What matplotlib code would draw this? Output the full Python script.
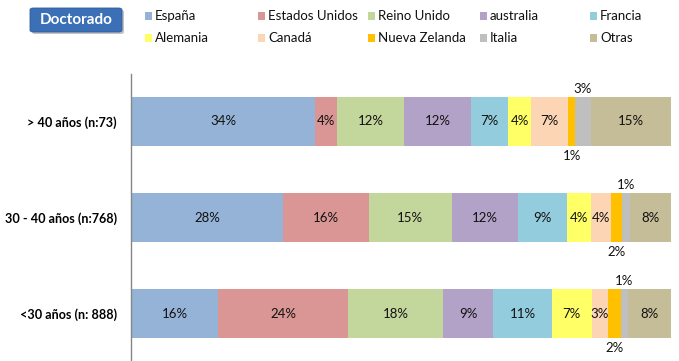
import matplotlib.pyplot as plt
import numpy as np
from matplotlib.patches import FancyBboxPatch, Rectangle

# categories, bottom to top
groups = ["<30 años (n: 888)", "30 - 40 años (n:768)", "> 40 años (n:73)"]

countries = ["España", "Estados Unidos", "Reino Unido", "australia", "Francia",
             "Alemania", "Canadá", "Nueva Zelanda", "Italia", "Otras"]

colors = ["#95B3D7", "#D99694", "#C3D69B", "#B3A2C7", "#93CDDD",
          "#FFFF66", "#FCD5B5", "#FFC000", "#BFBFBF", "#C4BD97"]

# share (%) per country, one value per group (<30, 30-40, >40)
espana = [16.1, 28.2, 34.1]
estados_unidos = [24.1, 15.8, 4.1]
reino_unido = [17.6, 15.4, 12.4]
australia = [9.3, 12.2, 12.4]
francia = [10.8, 9.1, 6.9]
alemania = [7.4, 4.4, 4.1]
canada = [3.0, 3.7, 6.9]
nueva_zelanda = [2.4, 2.2, 1.4]
italia = [1.3, 1.4, 2.8]
otras = [8.0, 7.6, 14.9]

series = [espana, estados_unidos, reino_unido, australia, francia,
          alemania, canada, nueva_zelanda, italia, otras]

plt.rcParams["font.family"] = ["Lato", "DejaVu Sans"]

fig = plt.figure(figsize=(6.79, 3.61), dpi=100)
ax = fig.add_axes([131 / 679, 0.0, 540 / 679, 1 - 74 / 361])

ypos = np.arange(len(groups))
left = np.zeros(len(groups))
bar_h = 0.51
for name, vals, col in zip(countries, series, colors):
    vals = np.array(vals)
    ax.barh(ypos, vals, left=left, height=bar_h, color=col, edgecolor="none")
    for y, l, v in zip(ypos, left, vals):
        txt = "%d%%" % round(v)
        cx = l + v / 2
        if name == "Nueva Zelanda":
            ax.text(cx, y - bar_h / 2 - 0.04, txt, ha="center", va="top",
                    fontsize=9.5, color="#111111")
        elif name == "Italia":
            ax.text(cx, y + bar_h / 2 + 0.02, txt, ha="center", va="bottom",
                    fontsize=9.5, color="#111111")
        else:
            ax.text(cx, y, txt, ha="center", va="center", fontsize=9.5,
                    color="#111111")
    left += vals

ax.set_xlim(0, 100)
ax.set_ylim(-0.49, 2.49)
ax.set_yticks(ypos)
ax.set_yticklabels(groups, fontsize=9.1, fontweight="bold")
ax.tick_params(axis="y", length=0, pad=10)
ax.set_xticks([])
for s in ["top", "right", "bottom"]:
    ax.spines[s].set_visible(False)
ax.spines["left"].set_color("#868686")
ax.spines["left"].set_linewidth(1)

# legend, 5 columns x 2 rows
col_x = [145, 258, 368, 480, 590]
row_y = [16, 38]
for i, (name, col) in enumerate(zip(countries, colors)):
    x = col_x[i % 5]
    y = row_y[i // 5]
    fig.patches.append(Rectangle((x / 679, 1 - (y + 3.5) / 361), 7 / 679, 7 / 361,
                                 transform=fig.transFigure, facecolor=col,
                                 edgecolor="none"))
    fig.text((x + 10) / 679, 1 - y / 361, name, ha="left", va="center",
             fontsize=9.5, color="#111111")

# title box
shadow = FancyBboxPatch((32 / 679, 1 - 34 / 361), 92 / 679, 24 / 361,
                        boxstyle="round,pad=0,rounding_size=0.005",
                        transform=fig.transFigure, facecolor="#9a9a9a",
                        edgecolor="none", alpha=0.6)
box = FancyBboxPatch((30 / 679, 1 - 32 / 361), 92 / 679, 24 / 361,
                     boxstyle="round,pad=0,rounding_size=0.005",
                     transform=fig.transFigure, facecolor="#3B6FB6",
                     edgecolor="#2F5F9E", linewidth=0.6)
fig.patches.append(shadow)
fig.patches.append(box)
fig.text(76 / 679, 1 - 20 / 361, "Doctorado", ha="center", va="center",
         fontsize=11, fontweight="bold", color="white")

fig.savefig("out.png", dpi=100)
